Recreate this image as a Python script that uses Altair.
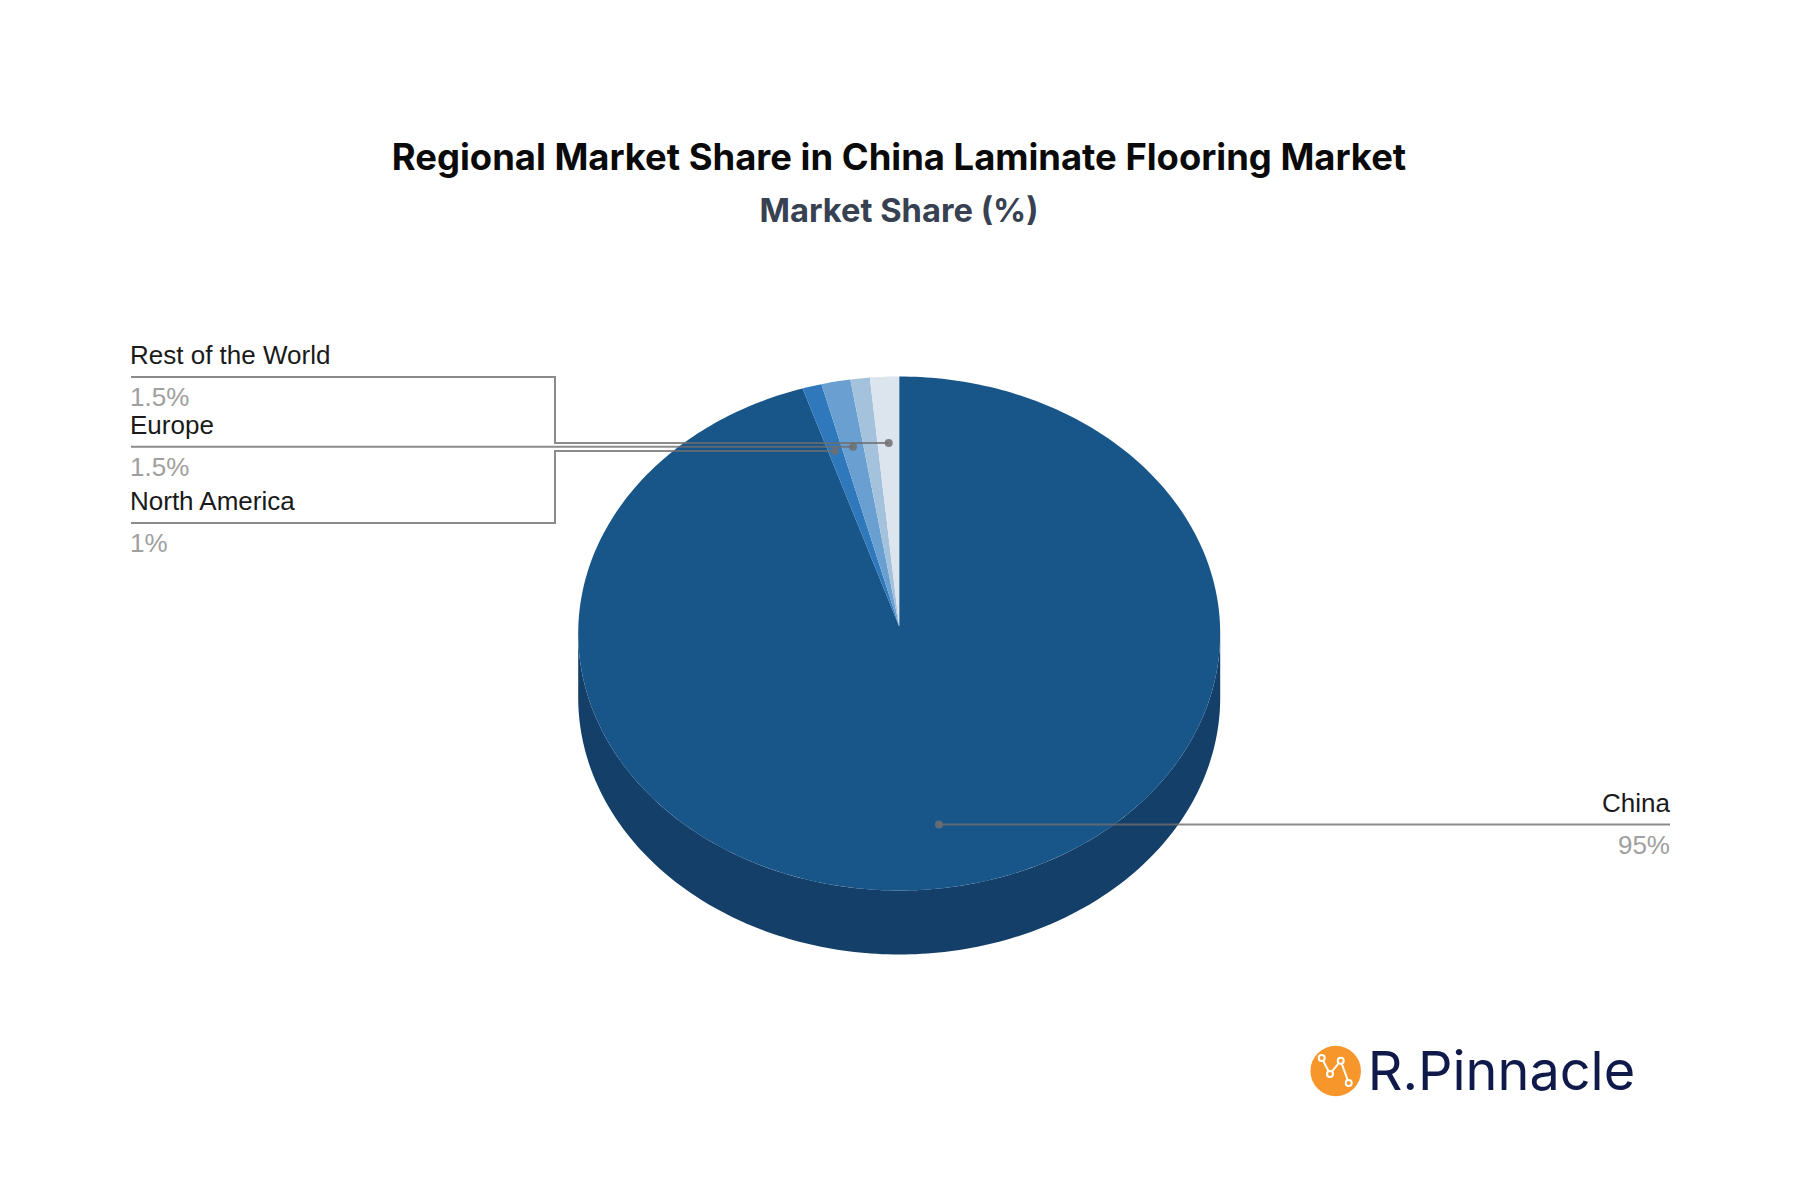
import math
import altair as alt
import pandas as pd

# --- chart values ---
regions = ["China", "North America", "Europe", "Asia Pacific", "Rest of the World"]
shares = [95, 1, 1.5, 1, 1.5]
share_labels = ["95%", "1%", "1.5%", "", "1.5%"]
region_colors = ["#18568a", "#2e78bb", "#699fd1", "#a5c2dd", "#dce4ee"]
side_color = "#133f68"

# --- layout (page pixels) ---
X0, X1, Y0, Y1 = 8, 1790, 148, 1178
CX, CY, RX, RY, DEPTH = 899.2, 633.5, 321, 257, 64
APEX_LIFT = 7  # the pie is seen in perspective: its centre sits above the ellipse's centre
K = APEX_LIFT / RY


def ellipse(deg, dy=0):
    t = math.radians(deg)
    w = 1 + K * math.cos(t)
    x = CX + RX * math.sqrt(1 - K * K) * math.sin(t) / w
    y = CY - (RY * math.cos(t) + APEX_LIFT) / w + dy
    return x, y


rows = []
start = 0.0
for name, share in zip(regions, shares):
    end = start + share * 3.6
    pts = [(CX, CY - APEX_LIFT)]
    steps = max(2, int(end - start) + 1)
    pts += [ellipse(start + (end - start) * i / steps) for i in range(steps + 1)]
    for i, (x, y) in enumerate(pts):
        rows.append({"region": name, "seq": i, "x": x, "y": y})
    start = end
wedges = pd.DataFrame(rows)

t0 = math.degrees(math.acos(-K))
angles = [t0 + (360 - 2 * t0) * i / 180 for i in range(181)]
side_pts = [ellipse(d) for d in angles] + [ellipse(d, DEPTH) for d in reversed(angles)]
side = pd.DataFrame([{"seq": i, "x": x, "y": y} for i, (x, y) in enumerate(side_pts)])

leaders = pd.DataFrame(
    [
        {"leader": "Rest of the World", "seq": i, "x": x, "y": y}
        for i, (x, y) in enumerate([(131, 377), (555, 377), (555, 443), (888.7, 443)])
    ]
    + [
        {"leader": "Europe", "seq": i, "x": x, "y": y}
        for i, (x, y) in enumerate([(131, 446.7), (853, 446.7)])
    ]
    + [
        {"leader": "North America", "seq": i, "x": x, "y": y}
        for i, (x, y) in enumerate([(131, 523), (555, 523), (555, 451), (835, 451)])
    ]
    + [
        {"leader": "China", "seq": i, "x": x, "y": y}
        for i, (x, y) in enumerate([(939, 824.4), (1670, 824.4)])
    ]
)
dots = pd.DataFrame({"x": [888.7, 853, 835, 939], "y": [443, 446.7, 451, 824.4]})

names = pd.DataFrame(
    {
        "t": ["Rest of the World", "Europe", "North America"],
        "x": [130, 130, 130],
        "y": [356, 425.5, 501.5],
    }
)
names_right = pd.DataFrame({"t": ["China"], "x": [1670], "y": [804]})
values = pd.DataFrame(
    {"t": [share_labels[4], share_labels[2], share_labels[1]], "x": [130, 130, 130], "y": [398, 468, 543.5]}
)
values_right = pd.DataFrame({"t": [share_labels[0]], "x": [1670], "y": [846]})

xs = alt.X("x:Q", scale=alt.Scale(domain=[X0, X1], nice=False, zero=False), axis=None)
ys = alt.Y("y:Q", scale=alt.Scale(domain=[Y1, Y0], nice=False, zero=False), axis=None)

side_layer = alt.Chart(side).mark_line(fill=side_color, strokeWidth=0).encode(xs, ys, order="seq:Q")
wedge_layer = (
    alt.Chart(wedges)
    .mark_line(strokeWidth=0)
    .encode(
        xs,
        ys,
        order="seq:Q",
        detail="region:N",
        fill=alt.Fill(
            "region:N", scale=alt.Scale(domain=regions, range=region_colors), legend=None
        ),
    )
)
leader_layer = (
    alt.Chart(leaders)
    .mark_line(stroke="#6e6e6e", strokeWidth=2, opacity=0.8, interpolate="linear")
    .encode(xs, ys, order="seq:Q", detail="leader:N")
)
dot_layer = (
    alt.Chart(dots)
    .mark_circle(color="#6e6e6e", opacity=0.85, size=64)
    .encode(xs, ys)
)


def text(df, color, align):
    return (
        alt.Chart(df)
        .mark_text(font="Liberation Sans", fontSize=26, color=color, align=align, baseline="middle")
        .encode(xs, ys, text="t:N")
    )


# logo
logo_disc = pd.DataFrame({"x": [1335.7], "y": [1071]})
logo_x = [1321.7, 1330, 1340.7, 1348.7]
logo_y = [1058, 1074, 1060.7, 1083]
logo_pts = pd.DataFrame({"x": logo_x, "y": logo_y, "seq": range(4)})
logo_name = pd.DataFrame({"t": ["R.Pinnacle"], "x": [1367.7], "y": [1074]})

logo = [
    alt.Chart(logo_disc).mark_circle(color="#f7962a", opacity=1, size=2550).encode(xs, ys),
    alt.Chart(logo_pts).mark_line(stroke="white", strokeWidth=2).encode(xs, ys, order="seq:Q"),
    alt.Chart(logo_pts)
    .mark_point(shape="circle", fill="#f7962a", stroke="white", strokeWidth=2, opacity=1, filled=False, size=36)
    .encode(xs, ys),
    alt.Chart(logo_name)
    .mark_text(font="Inter", fontSize=54, color="#101a4a", align="left", baseline="middle")
    .encode(xs, ys, text="t:N"),
]

chart = (
    alt.layer(
        side_layer,
        wedge_layer,
        leader_layer,
        dot_layer,
        text(names, "#1a1a1a", "left"),
        text(names_right, "#1a1a1a", "right"),
        text(values, "#a0a0a0", "left"),
        text(values_right, "#a0a0a0", "right"),
        *logo,
    )
    .properties(
        width=X1 - X0,
        height=Y1 - Y0,
        padding={"left": 0, "top": 140, "right": 0, "bottom": 0},
        autosize="none",
        background="white",
        title=alt.TitleParams(
            text="Regional Market Share in China Laminate Flooring Market",
            subtitle="Market Share (%)",
            anchor="middle",
            font="Inter",
            fontSize=36.4,
            fontWeight="bold",
            color="#0a0a0a",
            subtitleFont="Inter",
            subtitleFontSize=32.7,
            subtitleFontWeight="bold",
            subtitleColor="#374151",
            subtitlePadding=18.5,
            offset=-81,
        ),
    )
    .configure_view(stroke=None)
)

chart.save("out.html", embed_options={"renderer": "svg", "actions": False})
